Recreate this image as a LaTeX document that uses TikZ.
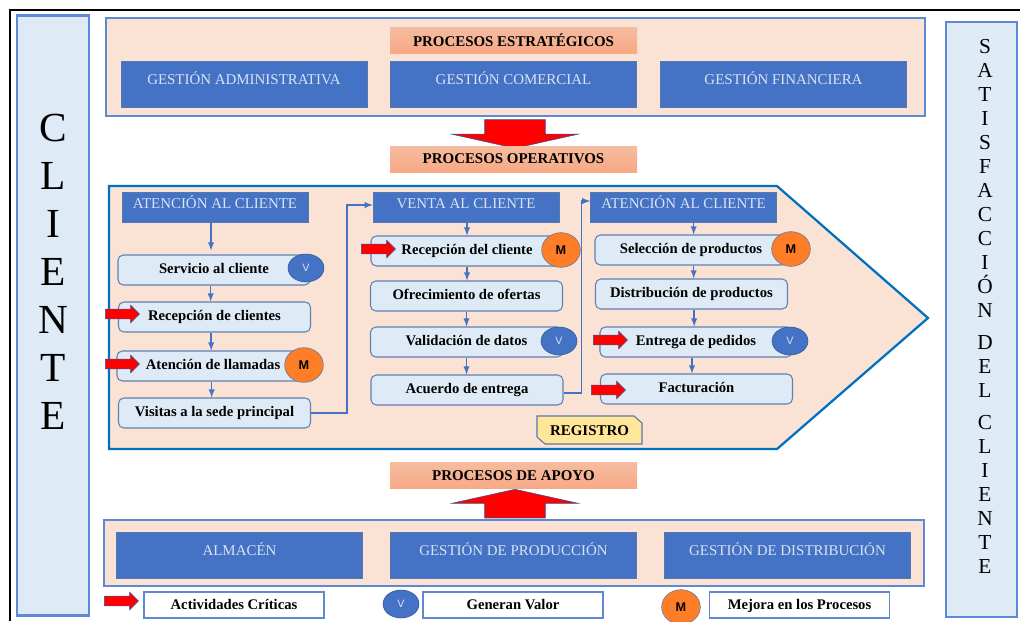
\documentclass[tikz,border=0pt]{standalone}
\usepackage{fontspec}
\setmainfont{Liberation Serif}
\newfontfamily\circfont{Liberation Sans}
\usetikzlibrary{shapes.geometric,shapes.arrows}
\definecolor{peach}{HTML}{FAE3D5}
\definecolor{paleblue}{HTML}{DEEAF6}
\definecolor{midblue}{HTML}{4472C4}
\definecolor{darkblue}{HTML}{2F5597}
\definecolor{edgeblue}{HTML}{5F8AD3}
\definecolor{pentblue}{HTML}{0070C0}
\definecolor{paletext}{HTML}{DAE3F3}
\definecolor{orangem}{HTML}{FD7E26}
\definecolor{titletop}{HTML}{F5BCA0}
\definecolor{titlebot}{HTML}{F7A985}
\definecolor{regyellow}{HTML}{FFE699}
\tikzset{
	panel/.style={draw=edgeblue, line width=1.5pt, fill=peach, rectangle, inner sep=0pt},
	sidebox/.style={draw=edgeblue, line width=1.9pt, fill=paleblue, rectangle, inner sep=0pt},
	title/.style={rectangle, top color=titletop, bottom color=titlebot, minimum width=185.25pt, minimum height=19.5pt, inner sep=0pt, font=\fontsize{11.2}{13}\selectfont\bfseries},
	bluebox/.style={draw=darkblue!80, fill=midblue, rectangle, minimum width=184.5pt, minimum height=34.5pt, inner sep=0pt, text=paletext, text height=8pt, text depth=8pt, font=\fontsize{11.2}{13}\selectfont},
	header/.style={draw=darkblue!80, fill=midblue, rectangle, minimum width=139.5pt, minimum height=22.5pt, inner sep=0pt, text=paletext, text height=8pt, text depth=6pt, font=\fontsize{11.2}{13}\selectfont},
	stepbox/.style={draw=darkblue!75, fill=paleblue, rectangle, rounded corners=4pt, line width=0.8pt, minimum width=144pt, minimum height=22.5pt, inner sep=0pt, text height=7.5pt, text depth=2.4pt, font=\fontsize{11}{13}\selectfont\bfseries},
	legendbox/.style={draw=edgeblue, fill=white, rectangle, line width=0.8pt, minimum width=135pt, minimum height=19.5pt, inner sep=0pt, text height=7.5pt, text depth=1pt, font=\fontsize{11}{13}\selectfont\bfseries},
	valor/.style={draw=darkblue, fill=midblue, ellipse, minimum width=27pt, minimum height=21pt, inner sep=0pt, text=paletext, font=\circfont\fontsize{8}{9}\selectfont},
	mejora/.style={draw=darkblue!80, fill=orangem, ellipse, minimum width=29pt, minimum height=26pt, inner sep=0pt, font=\circfont\fontsize{9.5}{10}\selectfont\bfseries},
	critarrow/.style={draw=darkblue, fill=red, single arrow, minimum width=13pt, minimum height=25.5pt, single arrow head extend=3pt, inner xsep=0pt, inner ysep=3.4pt},
	bigarrow/.style={draw=darkblue, fill=red, single arrow, minimum width=94.5pt, minimum height=21.5pt, single arrow head extend=24.75pt, single arrow tip angle=155, inner xsep=0pt, inner ysep=22.5pt},
	flow/.style={draw=midblue, line width=1.1pt, -latex}
}
\begin{document}
\begin{tikzpicture}[x=0.75pt,y=-0.75pt]
		\useasboundingbox (0,0) rectangle (1020,621);
		\draw[line width=1.6pt] (10,621) -- (10,10) -- (1020,10);

		% Side columns
		\node (cliente) [sidebox, minimum width=54pt, minimum height=450pt] at (53,315.5) {};
		\node (clientetext) [align=center, font=\fontsize{31}{36}\selectfont] at (53,272) {C\\L\\I\\E\\N\\T\\E};
		\node (satis) [sidebox, minimum width=53pt, minimum height=446pt] at (981.5,319.5) {};
		\node (satistext) [align=center, font=\fontsize{16}{18}\selectfont] at (985,306.5) {S\\A\\T\\I\\S\\F\\A\\C\\C\\I\\Ó\\N\\[6pt]D\\E\\L\\[6pt]C\\L\\I\\E\\N\\T\\E};

		% Strategic processes
		\node (estrat) [panel, minimum width=614pt, minimum height=73.5pt] at (515.5,67) {};
		\node (titestrat) [title] at (513.5,40) {PROCESOS ESTRATÉGICOS};
		\node (admin) [bluebox] at (244,84) {GESTIÓN ADMINISTRATIVA};
		\node (comercial) [bluebox] at (513.5,84) {GESTIÓN COMERCIAL};
		\node (financiera) [bluebox] at (783.5,84) {GESTIÓN FINANCIERA};
		\node (bigdown) [bigarrow, rotate=-90] at (515,130.5) {};
		\node (titoper) [title] at (513.5,159) {PROCESOS OPERATIVOS};

		% Operative processes
		\draw[draw=pentblue, fill=peach, line width=1.7pt] (109,186) -- (777,186) -- (928,318) -- (777,449) -- (109,449) -- cycle;

		\node (hdr1) [header] at (215,207) {ATENCIÓN AL CLIENTE};
		\node (srv) [stepbox] at (214,270) {Servicio al cliente};
		\node (recep) [stepbox] at (214.5,317) {Recepción de clientes};
		\node (llamadas) [stepbox] at (213,366) {Atención de llamadas};
		\node (visitas) [stepbox] at (214.5,413) {Visitas a la sede principal};

		\node (hdr2) [header] at (466,207) {VENTA AL CLIENTE};
		\node (recepcli) [stepbox] at (467,251) {Recepción del cliente};
		\node (ofertas) [stepbox] at (466.5,296) {Ofrecimiento de ofertas};
		\node (datos) [stepbox] at (466.5,342) {Validación de datos};
		\node (acuerdo) [stepbox] at (467,390) {Acuerdo de entrega};

		\node (hdr3) [header] at (683.5,207) {ATENCIÓN AL CLIENTE};
		\node (selec) [stepbox] at (691,250) {Selección de productos};
		\node (distrib) [stepbox] at (691.5,294) {Distribución de productos};
		\node (entrega) [stepbox] at (696,342) {Entrega de pedidos};
		\node (factura) [stepbox] at (696.5,389) {Facturación};

		\node (v1) [valor] at (306,268) {V};
		\node (m1) [mejora] at (304,365) {M};
		\node (m2) [mejora] at (561,250) {M};
		\node (v2) [valor] at (559,341) {V};
		\node (m3) [mejora] at (791,249) {M};
		\node (v3) [valor] at (790,341) {V};

		\node (crit1) [critarrow] at (120,314) {};
		\node (crit2) [critarrow] at (120,364) {};
		\node (crit3) [critarrow] at (376,249) {};
		\node (crit4) [critarrow] at (608,340) {};
		\node (crit5) [critarrow] at (606,390) {};

		\draw[draw=darkblue!80, fill=regyellow, line width=0.8pt] (537,416) -- (634,416) -- (642,423) -- (642,444) -- (545,444) -- (537,437) -- cycle;
		\node (registro) [font=\fontsize{11.2}{13}\selectfont\bfseries, inner sep=0pt] at (589.5,430.5) {REGISTRO};

		% Arrows
		\draw[flow, shorten >=3pt] ([xshift=-3pt]hdr1.south) -- ([xshift=-2.25pt]srv.north);
		\draw[flow] ([xshift=-2.5pt]srv.south) -- ([xshift=-2.5pt]srv.south |- recep.north);
		\draw[flow] ([xshift=-2.5pt]recep.south) -- ([xshift=-2.5pt]recep.south |- llamadas.north);
		\draw[flow] ([xshift=-1pt]llamadas.south) -- ([xshift=-1pt]llamadas.south |- visitas.north);
		\draw[flow] (visitas.east) -- ++(36,0) |- ([yshift=1.5pt]hdr2.west);
		\draw[flow] (hdr2.south -| recepcli.north) -- (recepcli.north);
		\draw[flow] (recepcli.south) -- (recepcli.south |- ofertas.north);
		\draw[flow] (ofertas.south) -- (ofertas.south |- datos.north);
		\draw[flow] (datos.south) -- (datos.south |- acuerdo.north);
		\draw[flow] ([yshift=-2.25pt]acuerdo.east) -- ++(18,0) |- ([yshift=4.5pt]hdr3.west);
		\draw[flow] ([xshift=2pt]selec.north |- hdr3.south) -- ([xshift=2pt]selec.north);
		\draw[flow] ([xshift=2pt]selec.south) -- ([xshift=2pt]selec.south |- distrib.north);
		\draw[flow] ([xshift=2pt]distrib.south) -- ([xshift=2pt]distrib.south |- entrega.north);
		\draw[flow] ([xshift=-3pt]entrega.south) -- ([xshift=-3pt]entrega.south |- factura.north);

		% Support processes
		\node (titapoyo) [title] at (513.5,475.5) {PROCESOS DE APOYO};
		\node (bigup) [bigarrow, rotate=90] at (515,507) {};
		\node (apoyo) [panel, minimum width=615pt, minimum height=49.5pt] at (513.5,553) {};
		\node (almacen) [bluebox] at (239.5,555) {ALMACÉN};
		\node (produccion) [bluebox] at (513.5,555) {GESTIÓN DE PRODUCCIÓN};
		\node (distribucion) [bluebox] at (787.5,555) {GESTIÓN DE DISTRIBUCIÓN};

		% Legend
		\node (legcrit) [critarrow] at (119,601) {};
		\node (legcrittext) [legendbox] at (234,605) {Actividades Críticas};
		\node (legval) [valor] at (401,604) {V};
		\node (legvaltext) [legendbox] at (513,605) {Generan Valor};
		\node (legmej) [mejora] at (681,607) {M};
		\node (legmejtext) [legendbox] at (799.5,605) {Mejora en los Procesos};
	\end{tikzpicture}
\end{document}
